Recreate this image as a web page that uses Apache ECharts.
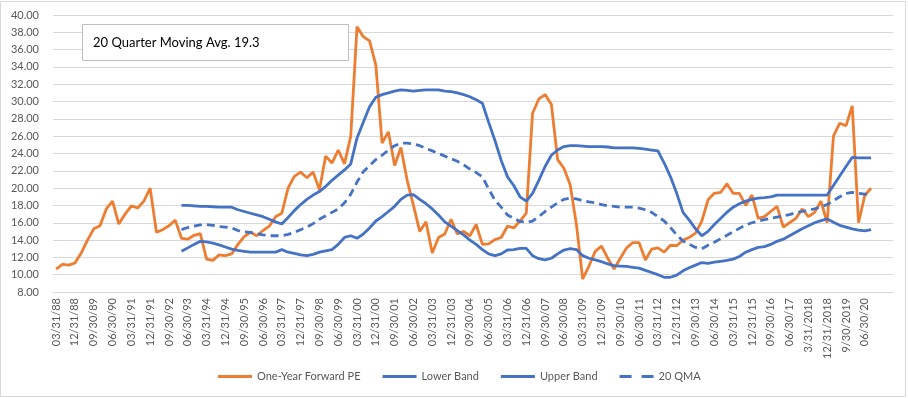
<!DOCTYPE html>
<html>
<head>
<meta charset="utf-8">
<script src="https://cdn.jsdelivr.net/npm/echarts@6/dist/echarts.min.js"></script>
<style>
  html, body { margin: 0; padding: 0; background: #fff; }
  #chart { width: 908px; height: 398px; }
</style>
</head>
<body>
<div id="chart"></div>
<script>
// quarterly tick labels, one every 3rd quarter starting 03/31/88
const tickLabels = [
  '03/31/88', '12/31/88', '09/30/89', '06/30/90', '03/31/91', '12/31/91', '09/30/92', '06/30/93',
  '03/31/94', '12/31/94', '09/30/95', '06/30/96', '03/31/97', '12/31/97', '09/30/98', '06/30/99',
  '03/31/00', '12/31/00', '09/30/01', '06/30/02', '03/31/03', '12/31/03', '09/30/04', '06/30/05',
  '03/31/06', '12/31/06', '09/30/07', '06/30/08', '03/31/09', '12/31/09', '09/30/10', '06/30/11',
  '03/31/12', '12/31/12', '09/30/13', '06/30/14', '03/31/15', '12/31/15', '09/30/16', '06/30/17',
  '3/31/2018', '12/31/2018', '9/30/2019', '06/30/20'
]

// one-year forward PE, 03/31/88 .. 09/30/20
const forwardPE = [
  10.65, 11.2, 11.1, 11.35, 12.5, 14.0, 15.3, 15.65, 17.6, 18.5,
  15.85, 17.0, 17.95, 17.7, 18.5, 20.0, 14.9, 15.2, 15.65, 16.3,
  14.2, 14.1, 14.55, 14.75, 11.8, 11.65, 12.3, 12.2, 12.4, 13.5,
  14.4, 14.9, 14.5, 15.1, 15.6, 16.7, 17.1, 20.0, 21.35, 21.85,
  21.2, 21.85, 19.8, 23.7, 22.9, 24.4, 22.8, 26.0, 38.65, 37.5,
  37.0, 34.2, 25.2, 26.5, 22.6, 24.7, 20.9, 18.0, 15.0, 16.1,
  12.5, 14.3, 14.7, 16.4, 14.7, 15.0, 14.5, 15.8, 13.5, 13.55,
  14.05, 14.3, 15.6, 15.4, 16.2, 17.1, 28.65, 30.3, 30.8, 29.7,
  23.3, 22.3, 20.4, 15.8, 9.5, 11.0, 12.7, 13.3, 11.9, 10.65,
  11.9, 13.1, 13.7, 13.7, 11.7, 12.95, 13.1, 12.6, 13.4, 13.35,
  14.0, 14.3, 14.8, 16.2, 18.65, 19.4, 19.5, 20.5, 19.4, 19.4,
  18.0, 19.2, 16.5, 16.7, 17.3, 17.9, 15.5, 16.0, 16.5, 17.6,
  16.7, 17.2, 18.5, 16.0, 26.0, 27.5, 27.2, 29.5, 16.0, 19.15,
  20.0
]

// bands and 20 quarter moving average start at 03/31/93 (index 20)
const lowerBand = [
  null, null, null, null, null, null, null, null, null, null,
  null, null, null, null, null, null, null, null, null, null,
  12.7, 13.1, 13.5, 13.85, 13.8, 13.65, 13.45, 13.2, 12.95, 12.8,
  12.7, 12.6, 12.6, 12.6, 12.6, 12.6, 12.9, 12.6, 12.45, 12.3,
  12.2, 12.35, 12.6, 12.75, 12.9, 13.5, 14.3, 14.5, 14.2, 14.7,
  15.4, 16.2, 16.7, 17.3, 17.9, 18.7, 19.2, 19.25, 18.7, 18.2,
  17.6, 16.9, 16.1, 15.6, 15.1, 14.6, 14.0, 13.5, 12.9, 12.4,
  12.2, 12.4, 12.85, 12.9, 13.05, 13.05, 12.2, 11.85, 11.7, 11.9,
  12.4, 12.85, 13.0, 12.9, 12.2, 11.9, 11.7, 11.5, 11.25, 11.05,
  11.0, 10.95, 10.85, 10.75, 10.5, 10.25, 10.0, 9.7, 9.7, 9.95,
  10.45, 10.8, 11.1, 11.4, 11.3, 11.45, 11.55, 11.65, 11.8, 12.1,
  12.6, 12.9, 13.15, 13.25, 13.5, 13.85, 14.1, 14.5, 14.9, 15.3,
  15.65, 16.0, 16.25, 16.45, 16.05, 15.7, 15.5, 15.3, 15.15, 15.05,
  15.2
]

const upperBand = [
  null, null, null, null, null, null, null, null, null, null,
  null, null, null, null, null, null, null, null, null, null,
  18.0, 18.0, 17.95, 17.9, 17.9, 17.85, 17.8, 17.8, 17.8, 17.5,
  17.3, 17.1, 16.9, 16.7, 16.4, 16.1, 15.85, 16.6, 17.4, 18.1,
  18.7, 19.2, 19.6, 20.2, 20.9, 21.5, 22.1, 22.8, 25.8, 27.6,
  29.4, 30.5, 30.8, 31.0, 31.2, 31.35, 31.3, 31.2, 31.3, 31.35,
  31.35, 31.35, 31.2, 31.15, 31.0, 30.8, 30.55, 30.2, 29.8, 27.6,
  25.5, 23.2, 21.3, 20.3, 19.0, 18.5, 19.4, 20.9, 22.5, 23.8,
  24.4, 24.8, 24.9, 24.9, 24.85, 24.8, 24.8, 24.8, 24.75, 24.65,
  24.65, 24.65, 24.65, 24.6, 24.5, 24.4, 24.3, 22.9, 21.3, 19.4,
  17.2, 16.3, 15.3, 14.5, 15.0, 15.8, 16.5, 17.2, 17.8, 18.2,
  18.5, 18.7, 18.85, 18.9, 19.0, 19.2, 19.2, 19.2, 19.2, 19.2,
  19.2, 19.2, 19.2, 19.2, 20.3, 21.4, 22.5, 23.55, 23.5, 23.5,
  23.5
]

const movingAvg = [
  null, null, null, null, null, null, null, null, null, null,
  null, null, null, null, null, null, null, null, null, null,
  15.2, 15.45, 15.6, 15.75, 15.8, 15.7, 15.55, 15.5, 15.4, 15.1,
  14.95, 14.9, 14.75, 14.6, 14.5, 14.5, 14.5, 14.65, 14.9, 15.2,
  15.5, 15.9, 16.4, 16.8, 17.2, 17.6, 18.3, 19.3, 20.7, 21.9,
  22.6, 23.3, 23.8, 24.4, 24.9, 25.2, 25.2, 25.1, 24.9, 24.6,
  24.3, 24.0, 23.7, 23.4, 23.1, 22.7, 22.2, 21.8, 21.3, 19.9,
  18.6, 17.8, 16.9, 16.5, 16.15, 16.05, 16.2, 16.7, 17.3, 17.8,
  18.3, 18.7, 18.85, 18.75, 18.55, 18.4, 18.3, 18.1, 17.95, 17.9,
  17.8, 17.8, 17.8, 17.7, 17.5, 17.2, 16.7, 16.2, 15.45, 14.6,
  13.9, 13.5, 13.15, 13.0, 13.4, 13.75, 14.15, 14.55, 14.95, 15.35,
  15.75, 16.0, 16.2, 16.35, 16.5, 16.65, 16.8, 16.95, 17.15, 17.3,
  17.45, 17.6, 17.85, 18.1, 18.55, 19.0, 19.4, 19.5, 19.4, 19.3,
  19.3
]

const latestAvg = '19.3'
const PAD_QUARTERS = 3 // empty slots after the last quarter, as in the source

const FONT = 'Lato, "Open Sans", sans-serif'
const ORANGE = '#ED7D31'
const BLUE = '#4472C4'

// legend icons: plain line, and two dashes for the moving average
const SOLID_ICON = 'path://M0,0h34v3h-34z'
const DASH_ICON = 'path://M0,0h12v3h-12z M22,0h12v3h-12z'

// category per quarter; labels only on every 3rd one
const categories = []
for (let i = 0; i < forwardPE.length + PAD_QUARTERS; i++) {
  categories.push(i % 3 === 0 && tickLabels[i / 3] ? tickLabels[i / 3] : 'q' + i)
}

const chart = echarts.init(document.getElementById('chart'), null, { renderer: 'canvas' })

function lineSeries(name, data, color, type) {
  return {
    name,
    type: 'line',
    data,
    symbol: 'none',
    connectNulls: false,
    lineStyle: { color, width: 2.8, type: type || 'solid' },
    itemStyle: { color },
    emphasis: { disabled: true },
    silent: true
  }
}

const option = {
  animation: false,
  backgroundColor: '#fff',
  textStyle: { fontFamily: FONT },
  grid: { left: 53, right: 15, top: 15, bottom: 106, containLabel: false },
  legend: {
    left: 218,
    top: 371,
    padding: 0,
    itemWidth: 34,
    itemHeight: 3,
    itemGap: 22,
    textStyle: { color: '#595959', fontSize: 11, fontFamily: FONT },
    data: [
      { name: 'One-Year Forward PE', icon: SOLID_ICON, itemStyle: { color: ORANGE } },
      { name: 'Lower Band', icon: SOLID_ICON, itemStyle: { color: BLUE } },
      { name: 'Upper Band', icon: SOLID_ICON, itemStyle: { color: BLUE } },
      { name: '20 QMA', icon: DASH_ICON, itemStyle: { color: BLUE } }
    ]
  },
  xAxis: {
    type: 'category',
    data: categories,
    boundaryGap: true,
    axisLine: { show: true, lineStyle: { color: '#d9d9d9', width: 1 } },
    axisTick: { show: false },
    splitLine: { show: false },
    axisLabel: {
      interval: 2,
      rotate: 90,
      margin: 6,
      color: '#595959',
      fontSize: 11,
      fontFamily: FONT,
      formatter: (value, idx) => (idx % 3 === 0 && tickLabels[idx / 3]) || ''
    }
  },
  yAxis: {
    type: 'value',
    min: 8,
    max: 40,
    interval: 2,
    axisLine: { show: false },
    axisTick: { show: false },
    splitLine: { lineStyle: { color: '#d9d9d9', width: 1 } },
    axisLabel: {
      margin: 14,
      color: '#595959',
      fontSize: 11,
      fontFamily: FONT,
      formatter: (v) => v.toFixed(2)
    }
  },
  graphic: [
    {
      type: 'rect',
      shape: { x: 0.5, y: 1.5, width: 905, height: 395 },
      style: { fill: 'none', stroke: '#d9d9d9', lineWidth: 1 },
      silent: true,
      z: -1
    },
    {
      type: 'rect',
      shape: { x: 82.5, y: 24.5, width: 266, height: 36 },
      style: { fill: '#fff', stroke: '#bfbfbf', lineWidth: 1 },
      z: 10
    },
    {
      type: 'text',
      x: 93,
      y: 43,
      style: {
        text: '20 Quarter Moving Avg. ' + latestAvg,
        fill: '#000',
        font: '13px ' + FONT,
        verticalAlign: 'middle'
      },
      z: 11
    }
  ],
  series: [
    lineSeries('One-Year Forward PE', forwardPE, ORANGE),
    lineSeries('Lower Band', lowerBand, BLUE),
    lineSeries('Upper Band', upperBand, BLUE),
    lineSeries('20 QMA', movingAvg, BLUE, [8, 5])
  ]
}

chart.setOption(option)
</script>
</body>
</html>
